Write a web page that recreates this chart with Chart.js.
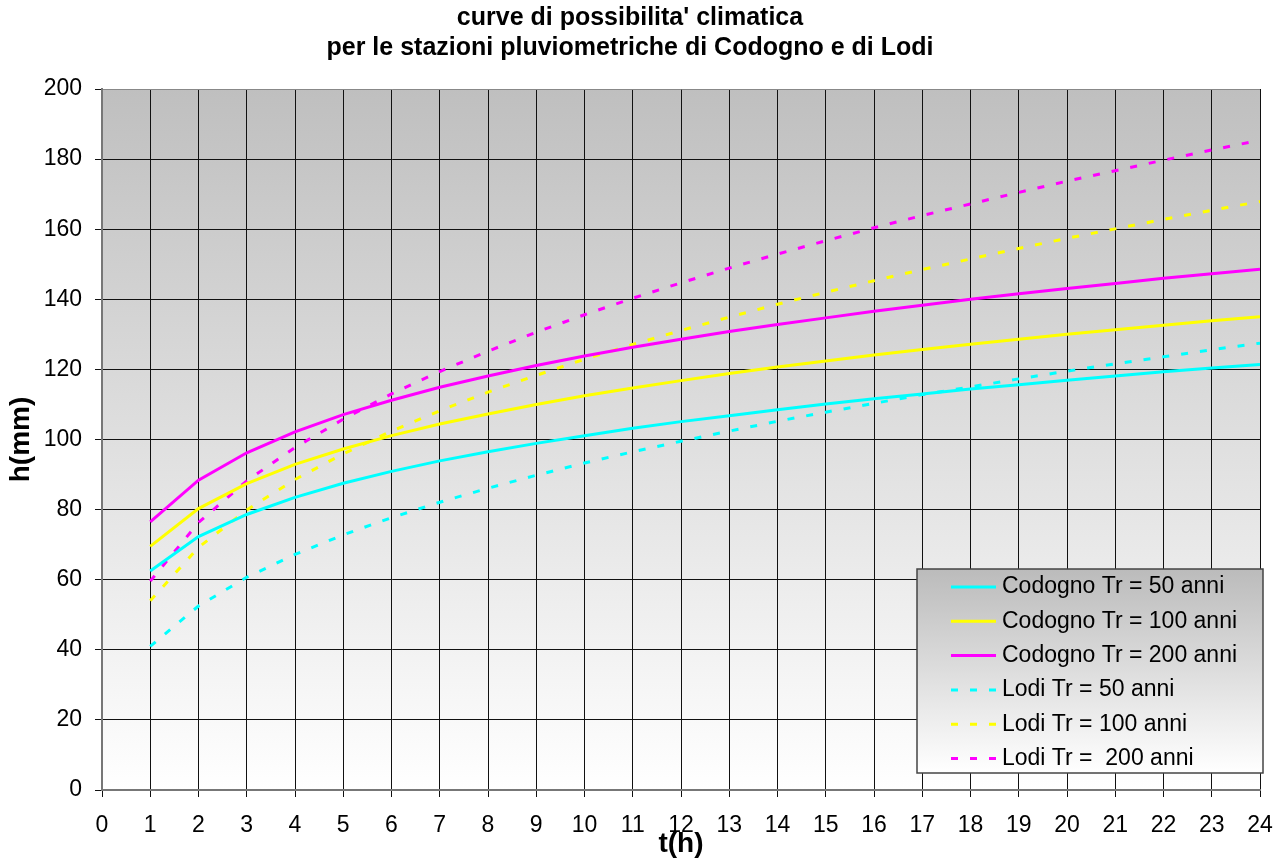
<!DOCTYPE html>
<html>
<head>
<meta charset="utf-8">
<script src="https://cdn.jsdelivr.net/npm/chart.js@4.4.1/dist/chart.umd.min.js"></script>
<style>
  html, body { margin: 0; padding: 0; background: #fff; }
  #wrap { width: 1285px; height: 861px; }
</style>
</head>
<body>
<div id="wrap"><canvas id="chart" width="1285" height="861"></canvas></div>
<script>
// ore di pioggia (t) e altezze (h, mm)
const hours = [1, 2, 3, 4, 5, 6, 7, 8, 9, 10, 11, 12, 13, 14, 15, 16, 17, 18, 19, 20, 21, 22, 23, 24];

const codogno50 = [62.5, 72.3, 78.6, 83.5, 87.5, 90.9, 93.9, 96.5, 98.9, 101.1, 103.2, 105.1,
  106.8, 108.5, 110.1, 111.6, 113.0, 114.4, 115.6, 116.9, 118.1, 119.3, 120.4, 121.4];
const codogno100 = [69.5, 80.3, 87.4, 92.9, 97.3, 101.1, 104.4, 107.3, 110.0, 112.5, 114.7, 116.8,
  118.8, 120.7, 122.4, 124.1, 125.7, 127.2, 128.6, 130.0, 131.3, 132.6, 133.9, 135.0];
const codogno200 = [76.5, 88.4, 96.2, 102.2, 107.1, 111.2, 114.9, 118.1, 121.1, 123.8, 126.3, 128.6,
  130.8, 132.8, 134.7, 136.6, 138.3, 140.0, 141.6, 143.1, 144.5, 146.0, 147.3, 148.6];
const lodi50 = [41.0, 52.5, 60.7, 67.2, 72.8, 77.7, 82.1, 86.1, 89.8, 93.3, 96.5, 99.5,
  102.4, 105.2, 107.8, 110.3, 112.8, 115.0, 117.3, 119.5, 121.6, 123.6, 125.6, 127.5];
const lodi100 = [54.0, 69.2, 79.9, 88.6, 95.9, 102.4, 108.2, 113.5, 118.3, 122.9, 127.1, 131.1,
  134.9, 138.6, 142.0, 145.3, 148.5, 151.5, 154.5, 157.4, 160.1, 162.8, 165.4, 167.9];
const lodi200 = [59.6, 76.3, 88.2, 97.7, 105.8, 113.0, 119.4, 125.2, 130.6, 135.6, 140.3, 144.7,
  148.9, 152.9, 156.7, 160.4, 163.9, 167.2, 170.5, 173.7, 176.7, 179.7, 182.6, 185.4];

const seriesLabels = [
  'Codogno Tr = 50 anni', 'Codogno Tr = 100 anni', 'Codogno Tr = 200 anni',
  'Lodi Tr = 50 anni', 'Lodi Tr = 100 anni', 'Lodi Tr =  200 anni',
];
const titleLines = ["curve di possibilita' climatica", 'per le stazioni pluviometriche di Codogno e di Lodi'];

const FONT = "'Liberation Sans', Arial, sans-serif";
const CYAN = '#00ffff', YELLOW = '#ffff00', MAGENTA = '#ff00ff';
const DASH = [7, 12];

const toPoints = (arr) => hours.map((t, i) => ({ x: t, y: arr[i] }));

function line(label, values, color, dashed) {
  return {
    label,
    data: toPoints(values),
    borderColor: color,
    backgroundColor: color,
    borderWidth: 3,
    borderDash: dashed ? DASH : [],
    pointRadius: 0,
    tension: 0,
    fill: false,
  };
}

// sfondo grigio sfumato dell'area del grafico
const plotBackground = {
  id: 'plotBackground',
  beforeDraw(chart) {
    const { ctx, chartArea: a } = chart;
    const g = ctx.createLinearGradient(0, a.top, 0, a.bottom);
    g.addColorStop(0, '#bfbfbf');
    g.addColorStop(1, '#ffffff');
    ctx.save();
    ctx.fillStyle = g;
    ctx.fillRect(a.left, a.top, a.right - a.left, a.bottom - a.top);
    ctx.restore();
  },
};

// legenda in basso a destra, dentro l'area del grafico
const boxLegend = {
  id: 'boxLegend',
  afterDraw(chart) {
    const { ctx, chartArea: a } = chart;
    const w = 346, h = 204;
    const x = a.right + 3 - w, y = a.bottom - 17 - h;
    ctx.save();
    const g = ctx.createLinearGradient(0, y, 0, y + h);
    g.addColorStop(0, '#bbbbbb');
    g.addColorStop(1, '#ffffff');
    ctx.fillStyle = g;
    ctx.fillRect(x, y, w, h);
    ctx.strokeStyle = '#444';
    ctx.lineWidth = 1.5;
    ctx.strokeRect(x, y, w, h);
    ctx.font = `23px ${FONT}`;
    ctx.textBaseline = 'middle';
    ctx.fillStyle = '#000';
    chart.data.datasets.forEach((ds, i) => {
      const cy = y + 18 + i * 34.3;
      ctx.strokeStyle = ds.borderColor;
      ctx.lineWidth = 3;
      ctx.setLineDash(ds.borderDash);
      ctx.beginPath();
      ctx.moveTo(x + 34, cy);
      ctx.lineTo(x + 79, cy);
      ctx.stroke();
      ctx.setLineDash([]);
      ctx.fillText(ds.label, x + 85, cy);
    });
    ctx.restore();
  },
};

new Chart(document.getElementById('chart').getContext('2d'), {
  type: 'line',
  data: {
    datasets: [
      line(seriesLabels[0], codogno50, CYAN, false),
      line(seriesLabels[1], codogno100, YELLOW, false),
      line(seriesLabels[2], codogno200, MAGENTA, false),
      line(seriesLabels[3], lodi50, CYAN, true),
      line(seriesLabels[4], lodi100, YELLOW, true),
      line(seriesLabels[5], lodi200, MAGENTA, true),
    ],
  },
  options: {
    responsive: false,
    animation: false,
    layout: { padding: { left: 0, right: 25, top: 0, bottom: 0 } },
    plugins: {
      legend: { display: false },
      tooltip: { enabled: false },
      title: {
        display: true,
        text: titleLines,
        color: '#000',
        font: { family: FONT, size: 25, weight: 'bold', lineHeight: 1.2 },
        padding: { top: 3, bottom: 26 },
      },
    },
    scales: {
      x: {
        type: 'linear',
        min: 0, max: 24,
        ticks: { stepSize: 1, color: '#000', font: { family: FONT, size: 23 }, padding: 15, maxRotation: 0 },
        grid: { color: '#111', lineWidth: 1, tickLength: 7, tickColor: '#111' },
        border: { color: '#777', width: 2 },
        title: {
          display: true, text: 't(h)', color: '#000',
          font: { family: FONT, size: 28, weight: 'bold' },
          padding: { top: 0, bottom: 0 },
        },
        afterFit: (s) => { s.height = 71; s.paddingLeft = 0; s.paddingRight = 0; },
      },
      y: {
        min: 0, max: 200,
        ticks: { stepSize: 20, color: '#000', font: { family: FONT, size: 23 }, padding: 13 },
        grid: {
          color: (c) => (c.tick && c.tick.value === 200 ? '#888' : '#111'),
          lineWidth: 1, tickLength: 7, tickColor: '#111',
        },
        border: { color: '#777', width: 2 },
        title: {
          display: true, text: 'h(mm)', color: '#000',
          font: { family: FONT, size: 28, weight: 'bold' },
          padding: { top: 4, bottom: 0 },
        },
        afterFit: (s) => { s.width = 102; },
      },
    },
  },
  plugins: [plotBackground, boxLegend],
});
</script>
</body>
</html>
